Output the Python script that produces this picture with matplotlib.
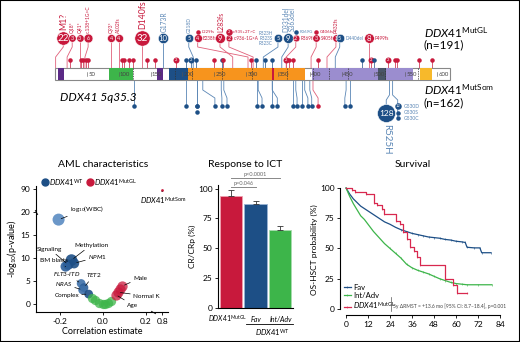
import numpy as np
import matplotlib
matplotlib.use('Agg')
import matplotlib.pyplot as plt
from matplotlib.patches import Rectangle
from matplotlib.lines import Line2D

plt.rcParams['font.family'] = ['Lato', 'DejaVu Sans']
plt.rcParams['mathtext.fontset'] = 'custom'
plt.rcParams['mathtext.it'] = 'Lato:italic'
plt.rcParams['mathtext.rm'] = 'Lato'
plt.rcParams['mathtext.bf'] = 'Lato:bold'

RED = '#c8193c'
BLUE = '#1d4f86'
LBLUE = '#5a86b5'
GREEN = '#3db54a'
KM_RED = '#d8284f'

# ---------------- data ----------------
# protein domains (aa start, aa end, colour)
dom_start = [5, 85, 160, 179, 209, 403, 507, 520, 573]
dom_end = [14, 122, 170, 209, 392, 507, 520, 562, 592]
dom_col = ['#5b2a86', GREEN, '#5b2a86', '#1d4f86', '#f7941d', '#9b8dcf', '#4a5568', '#9b8dcf', '#f7b92b']
exon_bounds = [122, 188, 215, 262, 309, 364, 405, 430, 460, 518, 570]
aa_ticks = [50, 100, 150, 200, 250, 300, 350, 400, 450, 500, 550, 600]

# germline variants with labels
gl_pos = [1, 19, 39, 47, 88, 100, 137, 170, 217, 303, 279, 311, 327, 356, 363, 402, 427, 440, 493]
gl_count = [22, 3, 3, 6, 4, 4, 32, 10, 5, 4, 9, 2, 5, 9, 2, 3, 3, 5, 8]
gl_type = ['r', 'r', 'r', 'r', 'r', 'r', 'r', 'b', 'b', 'r', 'r', 'r', 'b', 'b', 'r', 'r', 'r', 'b', 'r']
gl_label = ['M1?', 'Q18*', 'Q41*', 'c.138+1G>C', 'Q93*', 'A102fs', 'D140fs', 'G173R', 'G218D',
            'E238fs', 'L283fs', 'c.936-1G>A', 'R323H\nR323S\nR323C', 'D331del\nS363del', 'R369fs',
            'S405fs', 'P432fs', 'D440del', 'P499fs']
gl_xlab = [13, 27, 39, 52, 88, 100, 137, 170, 210, 224, 259, 273, 350, 366, 378, 410, 441, 447, 493]
gl_style = ['big', 'up', 'up', 'up', 'up', 'up', 'big', 'mid', 'up', 'right', 'mid', 'right', 'left',
            'mid', 'right', 'right', 'up', 'right', 'right']
# extra variants stacked above
ex_x = [224, 273, 378, 410]
ex_count = [1, 2, 1, 1]
ex_type = ['r', 'r', 'b', 'r']
ex_label = ['L229fs', 'c.935+2T>C', 'R369G', 'G406fs']

# unlabeled germline variants
gs_pos = [24, 41, 44, 49, 52, 105, 108, 116, 122, 144, 157, 190, 206, 214, 221, 250, 262, 264,
          308, 316, 330, 341, 363, 367, 374, 413, 482, 496, 501, 523, 534, 537, 571, 592]
gs_type = ['r', 'r', 'r', 'r', 'r', 'r', 'r', 'r', 'r', 'r', 'r', 'r', 'b', 'b', 'b', 'r', 'b', 'r',
           'r', 'b', 'b', 'b', 'r', 'r', 'r', 'r', 'b', 'r', 'b', 'r', 'r', 'r', 'r', 'r']
gs_count = [1, 1, 1, 1, 1, 1, 1, 1, 1, 1, 1, 2, 1, 2, 1, 1, 1, 1,
            1, 1, 1, 1, 2, 1, 1, 1, 1, 2, 1, 2, 1, 1, 1, 1]

# somatic variants
som_pos = [124, 206, 223, 223, 232, 261, 265, 317, 319, 341, 341, 374, 378, 388, 392, 400, 405, 457, 463]
som_xlab = [124, 206, 223, 223, 251, 262, 270, 317, 325, 341, 349, 374, 380, 388, 397, 403, 413, 455, 463]
som_type = ['b'] * 16 + ['r', 'b', 'b']

# AML characteristics
wt_x = [-0.205, -0.145, -0.16, -0.133, -0.172, -0.1, -0.087, -0.093, -0.065]
wt_y = [18.4, 9.6, 8.6, 8.9, 8.2, 4.5, 3.6, 3.1, 2.2]
wt_col = ['#5b8cc2', BLUE, BLUE, BLUE, '#2d5f9a', '#3d6fa8', '#2d5f9a', '#3d6fa8', BLUE]
wt_lab = ['log$_{10}$(WBC)', 'Methylation', 'Signaling', '$\\mathit{NPM1}$', 'BM blasts',
          '$\\mathit{FLT3}$-$\\mathit{ITD}$', '$\\mathit{TET2}$', '$\\mathit{NRAS}$', 'Complex']
nv_x = [-0.05, -0.035, -0.015, 0.0, 0.012, 0.025, 0.04]
nv_y = [1.4, 0.9, 0.3, 0.05, 0.1, 0.3, 0.6]
mg_x = [0.06, 0.07, 0.082, 0.09]
mg_y = [2.1, 2.6, 3.3, 3.9]
mg_lab = ['Age', 'Normal K', '', 'Male']
som_pt = (0.78, 88)

# response to ICT
resp = [94, 87, 65]
resp_err = [5, 3, 4]

# survival
fav_t = [0, 2, 4, 6, 8, 10, 12, 15, 18, 21, 24, 27, 30, 33, 36, 39, 42, 45, 48, 51, 54, 57, 60,
         63, 65, 66, 70, 73, 74, 79]
fav_s = [100, 95, 91, 88, 85, 83, 81, 78, 75, 72, 70, 67.5, 65.5, 64, 62.5, 61.5, 60.5, 59.5, 59,
         58.5, 57.5, 57, 56, 55.5, 55, 51, 50.5, 50.5, 46.5, 46.5]
adv_t = [0, 2, 4, 6, 8, 10, 12, 15, 18, 21, 24, 27, 30, 33, 36, 39, 42, 45, 48, 51, 54, 57, 60,
         63, 66, 72, 79.5]
adv_s = [100, 93, 87, 82, 77, 74, 70, 64, 59, 54, 50, 46, 42, 37, 34, 32, 30.5, 29, 27, 25, 23.5,
         22, 21, 20.5, 20, 20, 20]
ddx_t = [0, 3, 5, 11, 15, 17, 19.5, 20.5, 27, 29.5, 31, 33, 35, 37, 38.5, 40.5, 54, 58.5, 60.5, 66]
ddx_s = [100, 98, 96.5, 95, 88, 86, 83, 78.5, 73, 70, 64, 58, 51, 48, 43, 36.5, 25, 20, 13, 13]

W, H = 520, 342
fig = plt.figure(figsize=(W / 100, H / 100), dpi=100)


def ft(x, y, s, **kw):
    return fig.text(x / W, 1 - y / H, s, **kw)


def col(t):
    return RED if t == 'r' else BLUE


def diam(n):
    return 4 + 2 * np.sqrt(n)


# ---------------- top: lollipop ----------------
ax0 = fig.add_axes([0, 1 - 150 / H, 1, 150 / H])
ax0.set_xlim(-55 / 0.637, (W - 55) / 0.637)
ax0.set_ylim(150, 0)
ax0.axis('off')
k = 1 / 0.637  # aa per pixel

ax0.add_patch(Rectangle((0, 68), 620, 12, fc='white', ec='#888888', lw=0.8, zorder=2))
for a, b, c in zip(dom_start, dom_end, dom_col):
    ax0.add_patch(Rectangle((a, 68), b - a, 12, fc=c, ec='none', zorder=3))
ax0.add_patch(Rectangle((341, 68), 3, 12, fc=RED, ec='none', zorder=3))
for e in exon_bounds:
    ax0.plot([e, e], [68, 80], ls=(0, (2, 1.5)), color='#333333', lw=0.5, zorder=4)
for t in aa_ticks:
    ax0.plot([t, t], [72, 76], color='#555555', lw=0.4, zorder=4)
    ax0.text(t + 2, 74.3, str(t), fontsize=4.3, color='#444444', va='center', ha='left', zorder=5)

# unlabeled germline
for p, t, n in zip(gs_pos, gs_type, gs_count):
    c = col(t)
    ax0.plot([p, p], [60, 68], color=c, lw=0.5, zorder=1)
    d = 6 if n > 1 else 4.5
    ax0.scatter(p, 60, s=(d * 0.72) ** 2, color=c, zorder=6, lw=0)
    if n > 1:
        ax0.text(p, 60.3, str(n), fontsize=3, color='white', ha='center', va='center', zorder=7)

# labelled germline
for p, n, t, lab, xl, st in zip(gl_pos, gl_count, gl_type, gl_label, gl_xlab, gl_style):
    c = col(t)
    lc = '#e0607a' if t == 'r' else LBLUE
    ax0.plot([xl, xl, p, p], [38, 47, 57, 68], color=lc, lw=0.6, zorder=1)
    d = diam(n)
    ax0.scatter(xl, 38, s=(d * 0.72) ** 2, color=c, ec='white', lw=0.4, zorder=6)
    ax0.text(xl, 38.4, str(n), fontsize=7 if n > 20 else (5.5 if n > 7 else 4), color='white',
             ha='center', va='center', zorder=7)
    tc = c if t == 'r' else LBLUE
    top = 38 - d / 2 - 1
    if st == 'big':
        ax0.text(xl, top, lab, rotation=90, fontsize=6.3, color=tc, ha='center', va='bottom')
    elif st == 'mid':
        ax0.text(xl + 1, top, lab, rotation=90, fontsize=4.8, color=tc, ha='center', va='bottom',
                 linespacing=0.9)
    elif st == 'up':
        ax0.text(xl, top, lab, rotation=90, fontsize=3.5, color=tc, ha='center', va='bottom')
    elif st == 'right':
        ax0.text(xl + (d / 2 + 1.2) * k, 38.5, lab, fontsize=3.3, color=tc, ha='left', va='center')
    else:
        ax0.text(xl - (d / 2 + 1.2) * k, 38.5, lab, fontsize=3.3, color=tc, ha='right', va='center',
                 linespacing=1.0)

for xl, n, t, lab in zip(ex_x, ex_count, ex_type, ex_label):
    c = col(t)
    d = 6.5 if n > 1 else 4.5
    ax0.scatter(xl, 32, s=(d * 0.72) ** 2, color=c, lw=0, zorder=6)
    if n > 1:
        ax0.text(xl, 32.3, str(n), fontsize=3, color='white', ha='center', va='center', zorder=7)
    ax0.text(xl + 4 * k, 32, lab, fontsize=3.1, color=c if t == 'r' else LBLUE, ha='left', va='center')

# somatic
for p, xl, t in zip(som_pos, som_xlab, som_type):
    c = col(t)
    lc = '#e0607a' if t == 'r' else LBLUE
    ax0.plot([p, p, xl, xl], [80, 90, 98, 106], color=lc, lw=0.6, zorder=1)
    ax0.scatter(xl, 106, s=(4.5 * 0.72) ** 2, color=c, lw=0, zorder=6)
ax0.scatter(223, 112, s=(4.5 * 0.72) ** 2, color=BLUE, lw=0, zorder=6)

# hotspot R525H and G530
ax0.plot([525, 525, 520, 520], [80, 95, 100, 113], color=LBLUE, lw=0.6, zorder=1)
ax0.scatter(520, 113, s=(18 * 0.72) ** 2, color=BLUE, ec='white', lw=0.4, zorder=6)
ax0.text(520, 113.5, '128', fontsize=6, color='white', ha='center', va='center', zorder=7)
ax0.text(520, 124, 'R525H', rotation=-90, fontsize=7, color=LBLUE, ha='center', va='top')
ax0.plot([530, 530, 538, 538], [80, 95, 100, 118], color=LBLUE, lw=0.6, zorder=1)
ax0.scatter(538, 106, s=(6.5 * 0.72) ** 2, color=BLUE, lw=0, zorder=6)
ax0.text(538, 106.3, '12', fontsize=3, color='white', ha='center', va='center', zorder=7)
for yy, lab in zip([106, 113, 118], ['G530D', 'G530S', 'G530C']):
    if yy != 106:
        ax0.scatter(538, yy, s=(4.5 * 0.72) ** 2, color=BLUE, lw=0, zorder=6)
    ax0.text(538 + 6 * k, yy, lab, fontsize=3.6, color=LBLUE, ha='left', va='center')

ft(424, 33, r'$\mathit{DDX41}^{\mathrm{MutGL}}$', fontsize=8.5, va='center')
ft(424, 45, '(n=191)', fontsize=8.5, va='center')
ft(424, 90, r'$\mathit{DDX41}^{\mathrm{MutSom}}$', fontsize=8.5, va='center')
ft(424, 103, '(n=162)', fontsize=8.5, va='center')
ft(60, 98, 'DDX41 5q35.3', fontsize=8.5, style='italic', va='center')

# ---------------- panel A ----------------
def yf(y):
    y = np.asarray(y, float)
    return np.where(y <= 20, y, 20 + (y - 20) * 5 / 70)


def yi(y):
    y = np.asarray(y, float)
    return np.where(y <= 20, y, 20 + (y - 20) * 70 / 5)


def xf(x):
    x = np.asarray(x, float)
    return np.where(x <= 0.2, x, 0.2 + (x - 0.2) * 0.13)


def xi(x):
    x = np.asarray(x, float)
    return np.where(x <= 0.2, x, 0.2 + (x - 0.2) / 0.13)


axA = fig.add_axes([36 / W, 1 - 312 / H, 132 / W, 126 / H])
axA.set_yscale('function', functions=(yf, yi))
axA.set_xscale('function', functions=(xf, xi))
axA.set_ylim(-1.7, 100)
axA.set_xlim(-0.31, 1.0)
axA.set_yticks([0, 5, 10, 15, 20, 90])
axA.set_yticklabels(['0', '5', '10', '15', '20', '90'])
axA.set_xticks([-0.2, 0.0, 0.2, 0.8])
axA.set_xticklabels(['-0.2', '0.0', '0.2', '0.8'])
axA.minorticks_off()
for s in ['top', 'right']:
    axA.spines[s].set_visible(False)
axA.tick_params(labelsize=6, length=2.5, width=0.6, pad=1.5)
axA.spines['left'].set_linewidth(0.8)
axA.spines['bottom'].set_linewidth(0.8)
axA.set_xlabel('Correlation estimate', fontsize=6.5, labelpad=2)
axA.set_ylabel('-log$_{10}$(p-value)', fontsize=6.5, labelpad=1)
# axis break marks
axA.plot([-0.31], [22], marker=(2, 0, 30), ms=4, mew=0.6, color='black', clip_on=False)
axA.plot([0.45], [-1.7], marker=(2, 0, 60), ms=4, mew=0.6, color='black', clip_on=False)

wsz = [75, 70, 55, 55, 55, 40, 40, 40, 40]
axA.scatter(wt_x, wt_y, s=wsz, c=wt_col, alpha=0.9, lw=0, zorder=3)
axA.scatter(nv_x, nv_y, s=45, c=GREEN, alpha=0.75, lw=0, zorder=3)
axA.scatter(mg_x, mg_y, s=55, c=RED, alpha=0.75, lw=0, zorder=3)
axA.scatter([som_pt[0]], [som_pt[1]], s=4, c=RED, lw=0, zorder=3)

# label text positions (figure pixels, y from top)
wt_txt = [(70, 209, 'left'), (74, 245, 'left'), (37, 249, 'left'), (88, 257, 'left'),
          (40, 261, 'left'), (80, 274, 'right'), (86, 275, 'left'), (72, 284, 'right'), (79, 295, 'right')]
for x, y, lab, (tx, ty, ha) in zip(wt_x, wt_y, wt_lab, wt_txt):
    axA.annotate(lab, xy=(x, y), xytext=(tx, H - ty), textcoords='figure pixels', fontsize=4.6,
                 ha=ha, va='center', arrowprops=dict(arrowstyle='-', lw=0.5, color='black',
                                                     shrinkA=0, shrinkB=2))
mg_txt = [(127, 305), (133, 296), None, (133, 278)]
for x, y, lab, p in zip(mg_x, mg_y, mg_lab, mg_txt):
    if p is None:
        continue
    axA.annotate(lab, xy=(x, y), xytext=(p[0], H - p[1]), textcoords='figure pixels', fontsize=4.6,
                 ha='left', va='center', arrowprops=dict(arrowstyle='-', lw=0.5, color='black',
                                                         shrinkA=0, shrinkB=2))
axA.annotate(r'$\mathit{DDX41}^{\mathrm{MutSom}}$', xy=som_pt, xytext=(140, H - 200),
             textcoords='figure pixels', fontsize=5.5, ha='left', va='center',
             arrowprops=dict(arrowstyle='-', lw=0.5, color='black', shrinkA=0, shrinkB=1))

ft(103, 165, 'AML characteristics', fontsize=7.5, ha='center', va='center')
fig.add_artist(Line2D([45 / W], [1 - 182 / H], marker='o', ms=5, color=BLUE, transform=fig.transFigure))
ft(49, 182, r'$\mathit{DDX41}^{\mathrm{WT}}$', fontsize=5.5, va='center')
fig.add_artist(Line2D([90 / W], [1 - 182 / H], marker='o', ms=5, color=RED, transform=fig.transFigure))
ft(94, 182, r'$\mathit{DDX41}^{\mathrm{MutGL}}$', fontsize=5.5, va='center')

# ---------------- panel B ----------------
axB = fig.add_axes([218 / W, 1 - 308 / H, 75 / W, 123 / H])
xb = np.arange(3)
axB.bar(xb, resp, width=0.92, color=[RED, BLUE, GREEN], edgecolor=['#f0a0b0', '#9ab4d4', '#a8dcae'],
        lw=0.6, yerr=[[0, 0, 0], resp_err], error_kw=dict(ecolor='#333333', elinewidth=0.6,
                                                           capsize=2.5, capthick=0.6))
axB.set_xlim(-0.53, 2.53)
axB.set_ylim(0, 103)
axB.set_xticks([])
axB.set_yticks([0, 25, 50, 75, 100])
axB.tick_params(labelsize=6, length=2.5, width=0.6, pad=1.5)
for s in ['top', 'right']:
    axB.spines[s].set_visible(False)
axB.spines['left'].set_linewidth(0.8)
axB.spines['bottom'].set_linewidth(0.8)
axB.set_ylabel('CR/CRp (%)', fontsize=6, labelpad=1)
axB.plot([0, 1], [101, 101], color='#888888', lw=0.7, clip_on=False)
axB.text(0.5, 102, 'p=0.046', fontsize=4, color='#666666', ha='center', va='bottom', clip_on=False)
axB.plot([0, 2], [108.5, 108.5], color='#888888', lw=0.7, clip_on=False)
axB.text(1.0, 109.5, 'p<0.0001', fontsize=4, color='#666666', ha='center', va='bottom', clip_on=False)
ft(245, 165, 'Response to ICT', fontsize=7.5, ha='center', va='center')
ft(228, 319, r'$\mathit{DDX41}^{\mathrm{MutGL}}$', fontsize=5, ha='center', va='center')
ft(256, 319, 'Fav', fontsize=5, ha='center', va='center', style='italic')
ft(281, 319, 'Int/Adv', fontsize=5, ha='center', va='center', style='italic')
fig.add_artist(Line2D([246 / W, 293 / W], [1 - 324 / H] * 2, color='black', lw=0.6,
                      transform=fig.transFigure))
ft(272, 332, r'$\mathit{DDX41}^{\mathrm{WT}}$', fontsize=5.5, ha='center', va='center')

# ---------------- panel C ----------------
axC = fig.add_axes([340 / W, 1 - 315 / H, 165 / W, 130 / H])
axC.set_xlim(-3.3, 86.7)
axC.set_ylim(-5, 102.5)
axC.plot(fav_t, fav_s, color=BLUE, lw=0.9, marker='|', ms=2, mew=0.4, markevery=slice(12, None),
         label='Fav')
axC.plot(adv_t, adv_s, color=GREEN, lw=0.9, marker='|', ms=2, mew=0.4, markevery=slice(10, None),
         label='Int/Adv')
axC.plot(ddx_t, ddx_s, color=KM_RED, lw=0.9, drawstyle='steps-post', marker='|', ms=2, mew=0.4,
         label=r'$\mathit{DDX41}^{\mathrm{MutGL}}$')
axC.set_xticks(np.arange(0, 85, 12))
axC.set_yticks([0, 25, 50, 75, 100])
axC.spines['left'].set_bounds(0, 100)
axC.spines['bottom'].set_bounds(0, 84)
for s in ['top', 'right']:
    axC.spines[s].set_visible(False)
axC.spines['left'].set_linewidth(0.8)
axC.spines['bottom'].set_linewidth(0.8)
axC.tick_params(labelsize=6, length=2.5, width=0.6, pad=1.5)
axC.set_ylabel('OS-HSCT probability (%)', fontsize=6, labelpad=1)
axC.legend(loc='lower left', frameon=False, fontsize=5.5, handlelength=0.9, handletextpad=0.3,
           labelspacing=0.15, borderaxespad=0.1, bbox_to_anchor=(0.0, 0.0))
fig.add_artist(Line2D([391 / W] * 2, [1 - 297 / H, 1 - 311 / H], color='#555555', lw=0.5,
                      transform=fig.transFigure))
ft(393, 306, '5y \u0394RMST = +13.6 mo [95% CI: 8.7\u201318.4], p=0.001', fontsize=3.6,
   color='#444444', va='center')
ft(413, 165, 'Survival', fontsize=7.5, ha='center', va='center')

fig.add_artist(Rectangle((0, 0), 1, 1, transform=fig.transFigure, fill=False, ec='black', lw=1.5))
fig.savefig('out.png', dpi=100)
